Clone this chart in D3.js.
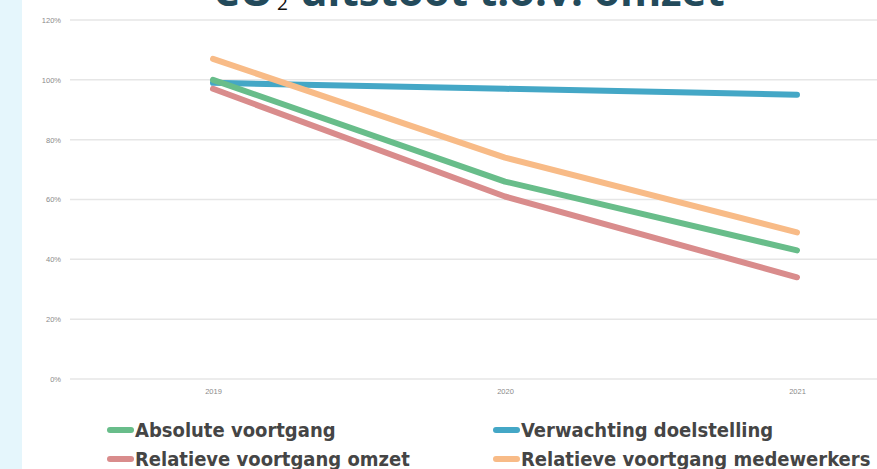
<!DOCTYPE html>
<html>
<head>
<meta charset="utf-8">
<script src="https://cdn.jsdelivr.net/npm/d3@7"></script>
<style>
  body { margin: 0; background: #fff; overflow: hidden; }
</style>
</head>
<body>
<div id="chart"></div>
<script>
var svgWidth = 877;
var svgHeight = 469;

// data
var years = ["2019", "2020", "2021"];
var absoluut = [100, 66, 43];
var doelstelling = [99, 97, 95];
var relatiefOmzet = [97, 61, 34];
var relatiefMedewerkers = [107, 74, 49];
var yTicks = [0, 20, 40, 60, 80, 100, 120];

var series = [
  {name: "Verwachting doelstelling", values: doelstelling, color: "#44a7c6"},
  {name: "Relatieve voortgang omzet", values: relatiefOmzet, color: "#d98c8c"},
  {name: "Absolute voortgang", values: absoluut, color: "#68bd8a"},
  {name: "Relatieve voortgang medewerkers", values: relatiefMedewerkers, color: "#f8bb87"}
];
var legendOrder = [
  {name: "Absolute voortgang", color: "#68bd8a", col: 0, row: 0},
  {name: "Verwachting doelstelling", color: "#44a7c6", col: 1, row: 0},
  {name: "Relatieve voortgang omzet", color: "#d98c8c", col: 0, row: 1},
  {name: "Relatieve voortgang medewerkers", color: "#f8bb87", col: 1, row: 1}
];

var svg = d3.select("#chart")
  .append("svg")
  .attr("width", svgWidth)
  .attr("height", svgHeight);

// light blue strip on the left
svg.append("rect")
  .attr("x", 0).attr("y", 0)
  .attr("width", 22).attr("height", svgHeight)
  .attr("fill", "#e5f6fc");

var plotLeft = 70, plotRight = 877;

var x = d3.scalePoint()
  .domain(years)
  .range([213, 797]);

var y = d3.scaleLinear()
  .domain([0, 120])
  .range([379, 20]);

// gridlines
svg.append("g")
  .selectAll("line")
  .data(yTicks)
  .enter()
  .append("line")
  .attr("x1", plotLeft)
  .attr("x2", plotRight)
  .attr("y1", d => y(d))
  .attr("y2", d => y(d))
  .attr("stroke", "#e6e6e6")
  .attr("stroke-width", 1.5);

var leftAxis = d3.axisLeft(y)
  .tickValues(yTicks)
  .tickFormat(d => d + "%")
  .tickSize(0)
  .tickPadding(0);

svg.append("g")
  .attr("transform", "translate(61,0)")
  .call(leftAxis)
  .call(g => g.select(".domain").remove())
  .selectAll("text")
  .attr("font-family", "Liberation Sans, sans-serif")
  .attr("font-size", 7.5)
  .attr("fill", "#8a8a8a");

var bottomAxis = d3.axisBottom(x).tickSize(0).tickPadding(0);

svg.append("g")
  .attr("transform", "translate(0,389)")
  .call(bottomAxis)
  .call(g => g.select(".domain").remove())
  .selectAll("text")
  .attr("font-family", "Liberation Sans, sans-serif")
  .attr("font-size", 7.5)
  .attr("fill", "#8a8a8a");

var line = d3.line()
  .x((d, i) => x(years[i]))
  .y(d => y(d));

svg.append("g")
  .selectAll("path")
  .data(series)
  .enter()
  .append("path")
  .attr("d", d => line(d.values))
  .attr("fill", "none")
  .attr("stroke", d => d.color)
  .attr("stroke-width", 6)
  .attr("stroke-linecap", "round")
  .attr("stroke-linejoin", "round");

// title, mostly cut off at the top
var title = svg.append("text")
  .attr("y", 6)
  .attr("font-family", "Open Sans, sans-serif")
  .attr("font-weight", "bold")
  .attr("font-size", 42)
  .attr("fill", "#234a5b");
title.append("tspan").attr("x", 213).text("CO");
title.append("tspan")
  .attr("x", 277)
  .attr("y", 9.5)
  .attr("font-weight", "normal")
  .attr("font-size", 19)
  .attr("fill", "#111")
  .text("2");
title.append("tspan")
  .attr("x", 300)
  .attr("y", 6)
  .text("uitstoot t.o.v. omzet");

// legend
var legend = svg.append("g")
  .selectAll("g")
  .data(legendOrder)
  .enter()
  .append("g")
  .attr("transform", d => `translate(${107 + d.col * 386}, ${430 + d.row * 29})`);

legend.append("line")
  .attr("x1", 3).attr("x2", 24)
  .attr("y1", 0).attr("y2", 0)
  .attr("stroke", d => d.color)
  .attr("stroke-width", 6)
  .attr("stroke-linecap", "round");

legend.append("text")
  .attr("x", 28)
  .attr("y", 7)
  .attr("font-family", "DejaVu Sans Condensed, DejaVu Sans, sans-serif")
  .attr("font-stretch", "condensed")
  .attr("font-weight", "bold")
  .attr("font-size", 20)
  .attr("fill", "#454545")
  .text(d => d.name);
</script>
</body>
</html>
